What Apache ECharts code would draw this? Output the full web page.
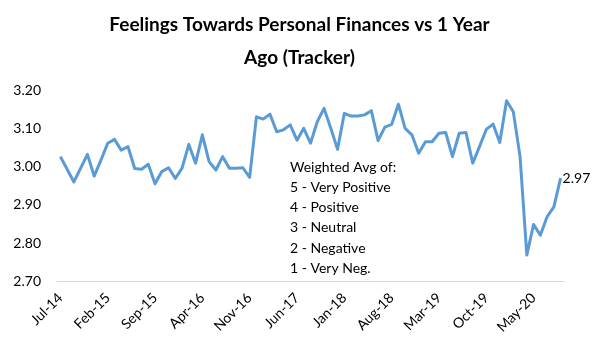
<!DOCTYPE html>
<html>
<head>
<meta charset="utf-8">
<script src="https://cdn.jsdelivr.net/npm/echarts@6/dist/echarts.min.js"></script>
<style>html,body{margin:0;padding:0;background:#fff;}#c{width:599px;height:357px;}</style>
</head>
<body>
<div id="c"></div>
<script>
const monthNames = ['Jan','Feb','Mar','Apr','May','Jun','Jul','Aug','Sep','Oct','Nov','Dec'];
// categories: monthly, Jul-14 .. Sep-20
const categories = [];
for (let y = 2014, m = 6; !(y === 2020 && m === 9); ) {
  categories.push(monthNames[m] + '-' + String(y).slice(2));
  m++; if (m === 12) { m = 0; y++; }
}
const values = [
  3.026, 2.993, 2.960, 2.996, 3.032, 2.975, 3.017, 3.061, 3.071, 3.043,
  3.052, 2.995, 2.993, 3.006, 2.955, 2.987, 2.997, 2.969, 2.996, 3.058,
  3.009, 3.083, 3.013, 2.991, 3.026, 2.996, 2.996, 2.997, 2.972, 3.130,
  3.124, 3.137, 3.091, 3.096, 3.109, 3.069, 3.100, 3.061, 3.117, 3.152,
  3.100, 3.045, 3.139, 3.132, 3.132, 3.135, 3.146, 3.068, 3.103, 3.110,
  3.163, 3.100, 3.083, 3.035, 3.065, 3.065, 3.087, 3.089, 3.026, 3.087,
  3.089, 3.009, 3.052, 3.097, 3.111, 3.063, 3.172, 3.143, 3.026, 2.769,
  2.849, 2.821, 2.869, 2.895, 2.970
];
const yTicks = { min: 2.7, max: 3.2, interval: 0.1 };
const titleLines = ['Feelings Towards Personal Finances vs 1 Year', 'Ago (Tracker)'];
const noteLines = ['Weighted Avg of:', '5 - Very Positive', '4 - Positive', '3 - Neutral', '2 - Negative', '1 - Very Neg.'];

const FONT = 'Lato';
const chart = echarts.init(document.getElementById('c'), null, { renderer: 'canvas' });

chart.setOption({
  animation: false,
  title: {
    text: titleLines.join('\n'),
    left: 'center',
    top: 3,
    textStyle: { fontFamily: FONT, fontWeight: 'bold', fontSize: 19, color: '#000', lineHeight: 33 }
  },
  grid: { left: 57, right: 35, top: 90, bottom: 75.5, containLabel: false },
  xAxis: {
    type: 'category',
    data: categories,
    boundaryGap: true,
    axisLine: { show: true, lineStyle: { color: '#d9d9d9', width: 1 } },
    axisTick: { show: false },
    axisLabel: { interval: 6, rotate: 45, margin: 14, color: '#000', fontFamily: FONT, fontSize: 14 },
    splitLine: { show: false }
  },
  yAxis: {
    type: 'value',
    min: yTicks.min, max: yTicks.max, interval: yTicks.interval,
    axisLine: { show: false },
    axisTick: { show: false },
    splitLine: { show: false },
    axisLabel: { formatter: v => v.toFixed(2), color: '#000', fontFamily: FONT, fontSize: 14, margin: 16 }
  },
  series: [{
    type: 'line',
    data: values,
    showSymbol: false,
    symbol: 'none',
    lineStyle: { color: '#5B9BD5', width: 3, join: 'round' },
    itemStyle: { color: '#5B9BD5' },
    endLabel: { show: true, distance: 2, formatter: p => Number(p.value).toFixed(2), color: '#000', fontFamily: FONT, fontSize: 14 },
    z: 3
  }],
  graphic: noteLines.map((t, i) => ({
    type: 'text',
    left: 290,
    top: 160 + i * 20.3,
    style: { text: t, fill: '#000', font: '14px ' + FONT }
  }))
});
</script>
</body>
</html>
